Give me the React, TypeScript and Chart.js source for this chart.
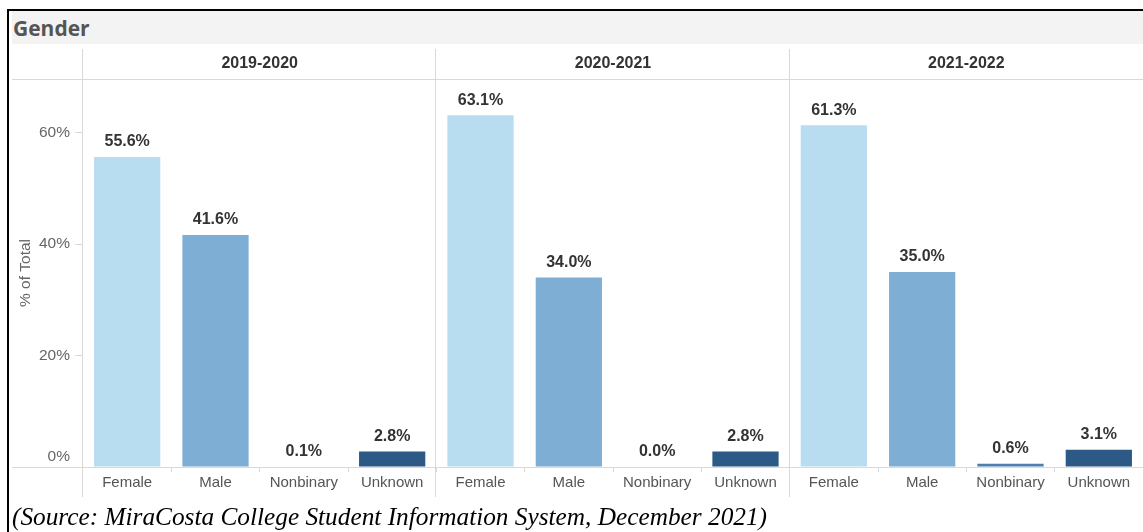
import React, { useEffect, useRef } from 'react';
import { Chart, registerables } from 'chart.js';

Chart.register(...registerables);

const years = ['2019-2020', '2020-2021', '2021-2022'];
const genders = ['Female', 'Male', 'Nonbinary', 'Unknown'];
const female = [55.6, 63.1, 61.3];
const male = [41.6, 34.0, 35.0];
const nonbinary = [0.1, 0.0, 0.6];
const unknown = [2.8, 2.8, 3.1];
const yTicks = [0, 20, 40, 60];
const genderColors = ['#b9ddf0', '#7eaed3', '#4e7fb1', '#2c5985'];

const FONT = '"Liberation Sans", Arial, sans-serif';

export default function App() {
  const canvasRef = useRef<HTMLCanvasElement | null>(null);

  useEffect(() => {
    const canvas = canvasRef.current;
    if (!canvas) return;

    const labels: string[] = [];
    const values: number[] = [];
    const colors: string[] = [];
    const series = [female, male, nonbinary, unknown];
    years.forEach((_, yi) => {
      genders.forEach((g, gi) => {
        labels.push(g);
        values.push(series[gi][yi]);
        colors.push(genderColors[gi]);
      });
    });

    const decor = {
      id: 'decor',
      afterDraw(chart: any) {
        const ctx = chart.ctx as CanvasRenderingContext2D;
        const area = chart.chartArea;
        const xs = chart.scales.x;
        const ys = chart.scales.y;
        const W = chart.width;
        ctx.save();
        ctx.strokeStyle = '#d9d9d9';
        ctx.lineWidth = 1;
        // horizontal lines
        ctx.beginPath();
        ctx.moveTo(12, area.top + 0.5);
        ctx.lineTo(W, area.top + 0.5);
        ctx.moveTo(12, Math.round(area.bottom) + 0.5);
        ctx.lineTo(W, Math.round(area.bottom) + 0.5);
        // vertical separators
        const seps = [Math.round(area.left) - 0.5];
        for (let p = 1; p < years.length; p++) {
          const a = xs.getPixelForValue(p * genders.length - 1);
          const b = xs.getPixelForValue(p * genders.length);
          seps.push(Math.round((a + b) / 2) - 0.5);
        }
        seps.forEach((x) => {
          ctx.moveTo(x, 49);
          ctx.lineTo(x, 497);
        });
        ctx.stroke();

        // panel headers
        ctx.fillStyle = '#333';
        ctx.font = `bold 16px ${FONT}`;
        ctx.textAlign = 'center';
        ctx.textBaseline = 'middle';
        years.forEach((yr, p) => {
          const a = xs.getPixelForValue(p * genders.length);
          const b = xs.getPixelForValue(p * genders.length + genders.length - 1);
          ctx.fillText(yr, (a + b) / 2, 64);
        });

        // y tick labels
        ctx.fillStyle = '#666';
        ctx.font = `15.5px ${FONT}`;
        ctx.textAlign = 'right';
        yTicks.forEach((v) => {
          let y = ys.getPixelForValue(v);
          if (v === 0) y -= 10;
          ctx.fillText(`${v}%`, 70, y);
        });

        // y title
        ctx.save();
        ctx.translate(26, (area.top + area.bottom) / 2);
        ctx.rotate(-Math.PI / 2);
        ctx.textAlign = 'center';
        ctx.fillText('% of Total', 0, 0);
        ctx.restore();

        // data labels
        ctx.fillStyle = '#333';
        ctx.font = `bold 16px ${FONT}`;
        ctx.textAlign = 'center';
        ctx.textBaseline = 'bottom';
        const meta = chart.getDatasetMeta(0);
        meta.data.forEach((bar: any, i: number) => {
          const v = values[i];
          ctx.fillText(`${v.toFixed(1)}%`, bar.x, bar.y - 7);
        });
        ctx.restore();
      },
    };

    const chart = new Chart(canvas, {
      type: 'bar',
      data: {
        labels,
        datasets: [
          {
            data: values,
            backgroundColor: colors,
            borderWidth: 0,
            categoryPercentage: 0.75,
            barPercentage: 1,
          },
        ],
      },
      options: {
        animation: false,
        responsive: false,
        maintainAspectRatio: false,
        layout: { padding: { left: 12, top: 79, right: 0, bottom: 35 } },
        plugins: {
          legend: { display: false },
          tooltip: { enabled: false },
          title: { display: false },
        },
        scales: {
          x: {
            type: 'category',
            grid: {
              display: true,
              drawOnChartArea: false,
              offset: true,
              tickLength: 5,
              color: '#d9d9d9',
            },
            border: { display: false },
            ticks: {
              color: '#555',
              font: { family: FONT, size: 15 },
              padding: 2,
              maxRotation: 0,
              autoSkip: false,
            },
            afterFit: (s: any) => {
              s.height = 30;
            },
          },
          y: {
            type: 'linear',
            min: 0,
            max: 69.6,
            afterBuildTicks: (s: any) => {
              s.ticks = yTicks.map((v) => ({ value: v }));
            },
            grid: {
              drawOnChartArea: false,
              tickLength: 8,
              color: '#d9d9d9',
            },
            border: { display: false },
            ticks: { display: false },
            afterFit: (s: any) => {
              s.width = 71;
            },
          },
        },
      },
      plugins: [decor],
    });

    return () => chart.destroy();
  }, []);

  return (
    <div
      style={{
        position: 'absolute',
        left: 0,
        top: 0,
        width: 1143,
        height: 532,
        overflow: 'hidden',
        background: '#fff',
      }}
    >
      <div style={{ position: 'absolute', left: 7, top: 9, width: 1136, height: 2, background: '#000' }} />
      <div style={{ position: 'absolute', left: 7, top: 9, width: 2, height: 523, background: '#000' }} />
      <div
        style={{
          position: 'absolute',
          left: 12,
          top: 11,
          width: 1131,
          height: 33,
          background: '#f3f3f3',
          fontFamily: '"Open Sans", sans-serif',
          fontWeight: 700,
          fontSize: 21,
          lineHeight: '35px',
          color: '#555',
          paddingLeft: 1,
          boxSizing: 'border-box',
        }}
      >
        Gender
      </div>
      <canvas
        ref={canvasRef}
        width={1143}
        height={532}
        style={{ position: 'absolute', left: 0, top: 0, width: 1143, height: 532 }}
      />
      <div
        style={{
          position: 'absolute',
          left: 12,
          top: 503,
          fontFamily: '"Liberation Serif", "Times New Roman", serif',
          fontStyle: 'italic',
          fontSize: 25.3,
          lineHeight: '26px',
          color: '#000',
          whiteSpace: 'nowrap',
        }}
      >
        (Source: MiraCosta College Student Information System, December 2021)
      </div>
    </div>
  );
}
